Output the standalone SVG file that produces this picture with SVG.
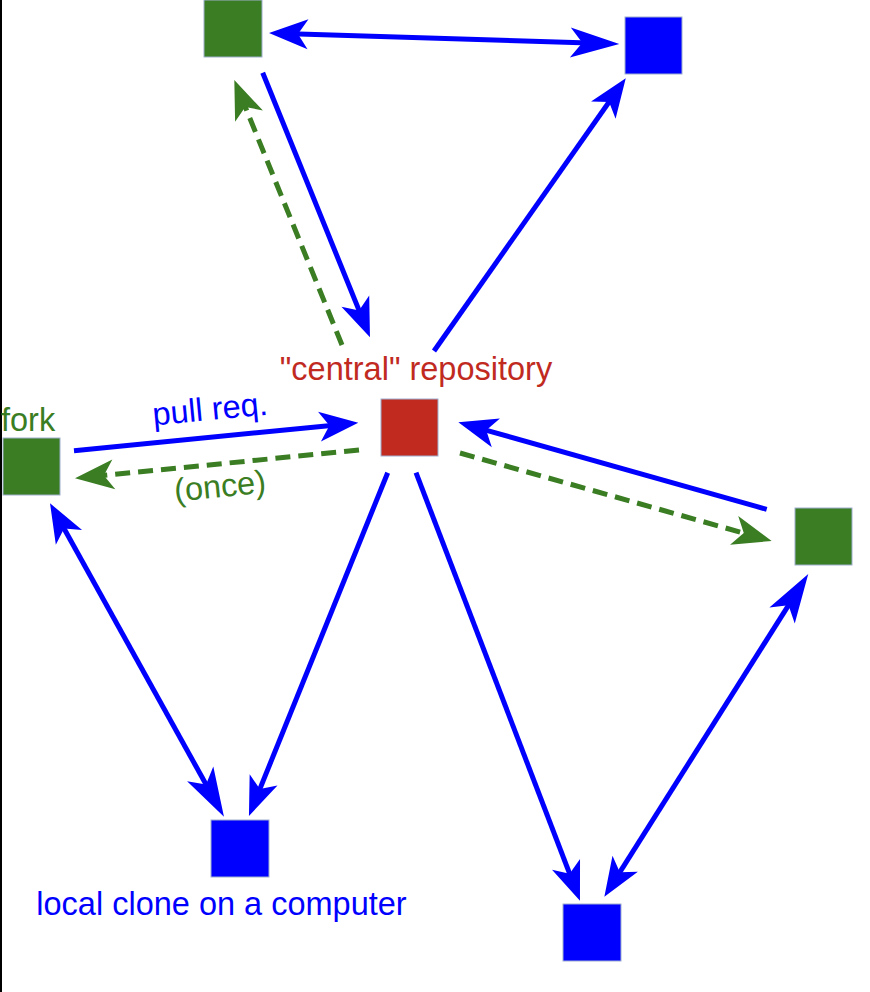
<svg xmlns="http://www.w3.org/2000/svg" width="870" height="992" viewBox="0 0 870 992">
<style>
.n{stroke:#9fb0cf;stroke-width:1}
.g{fill:#3a7d22}
.b{fill:#0000ff}
.r{fill:#c12a1f}
.e{fill:none;stroke-width:5}
.eb{stroke:#0000ff}
.eg{stroke:#3a7d22;stroke-dasharray:15 8}
text{font-family:"Liberation Sans",Arial,sans-serif;font-size:32.5px}
</style>
<defs>
<marker id="ab" viewBox="-41 -17 43 34" markerWidth="43" markerHeight="34" refX="-22" refY="0" orient="auto-start-reverse" markerUnits="userSpaceOnUse"><path d="M0,0 L-39,-15 L-29,0 L-39,15 Z" fill="#0000ff"/></marker>
<marker id="abL" viewBox="-51 -17 53 34" markerWidth="53" markerHeight="34" refX="-22" refY="0" orient="auto" markerUnits="userSpaceOnUse"><path d="M0,0 L-49,-15 L-37,0 L-49,15 Z" fill="#0000ff"/></marker>
<marker id="ag" viewBox="-41 -17 43 34" markerWidth="43" markerHeight="34" refX="-22" refY="0" orient="auto" markerUnits="userSpaceOnUse"><path d="M0,0 L-39,-15 L-29,0 L-39,15 Z" fill="#3a7d22"/></marker>
</defs>
<rect x="0" y="0" width="2" height="992" fill="#000"/>
<g id="connectors">
<line class="e eb" x1="291" y1="33.7" x2="597.3" y2="43.3" marker-start="url(#ab)" marker-end="url(#abL)"/>
<line class="e eb" x1="262.7" y1="72.7" x2="361.7" y2="316.9" marker-end="url(#ab)"/>
<line class="e eg" x1="342" y1="345" x2="242.6" y2="100.4" marker-end="url(#ag)"/>
<line class="e eb" x1="434" y1="351" x2="613.1" y2="96.3" marker-end="url(#ab)"/>
<line class="e eb" x1="74" y1="450.7" x2="336.4" y2="424.9" marker-end="url(#ab)"/>
<line class="e eg" x1="359" y1="450" x2="96.9" y2="476.1" marker-end="url(#ag)"/>
<line class="e eb" x1="766.7" y1="509.3" x2="479.5" y2="428.3" marker-end="url(#ab)"/>
<line class="e eg" x1="460" y1="453" x2="750.5" y2="535" marker-end="url(#ag)"/>
<line class="e eb" x1="60.7" y1="522.5" x2="213.3" y2="797.5" marker-start="url(#ab)" marker-end="url(#abL)"/>
<line class="e eb" x1="387.7" y1="472.7" x2="257.2" y2="795.6" marker-end="url(#ab)"/>
<line class="e eb" x1="416" y1="472.7" x2="572.1" y2="880.2" marker-end="url(#ab)"/>
<line class="e eb" x1="616.1" y1="878.1" x2="796.5" y2="592.6" marker-start="url(#ab)" marker-end="url(#abL)"/>
<text x="211" y="420" text-anchor="middle" fill="#0000ff" transform="rotate(-5.4 211 420)">pull req.</text>
<text x="221" y="497" text-anchor="middle" fill="#3a7d22" transform="rotate(-5.6 221 497)">(once)</text>
</g>
<g id="central">
<rect class="n r" x="381" y="399" width="57" height="57"/>
<text x="416" y="380" text-anchor="middle" fill="#c12a1f">"central" repository</text>
</g>
<g id="fork-top">
<rect class="n g" x="204" y="0" width="58" height="57"/>
</g>
<g id="clone-top">
<rect class="n b" x="625" y="17" width="57" height="57"/>
</g>
<g id="fork-left">
<rect class="n g" x="3" y="438" width="57" height="57"/>
<text x="1" y="431" fill="#3a7d22">fork</text>
</g>
<g id="fork-right">
<rect class="n g" x="795" y="508" width="57" height="57"/>
</g>
<g id="clone-left">
<rect class="n b" x="211" y="820" width="58" height="57"/>
<text x="221.5" y="915" text-anchor="middle" fill="#0000ff">local clone on a computer</text>
</g>
<g id="clone-right">
<rect class="n b" x="563" y="904" width="58" height="57"/>
</g>
</svg>
